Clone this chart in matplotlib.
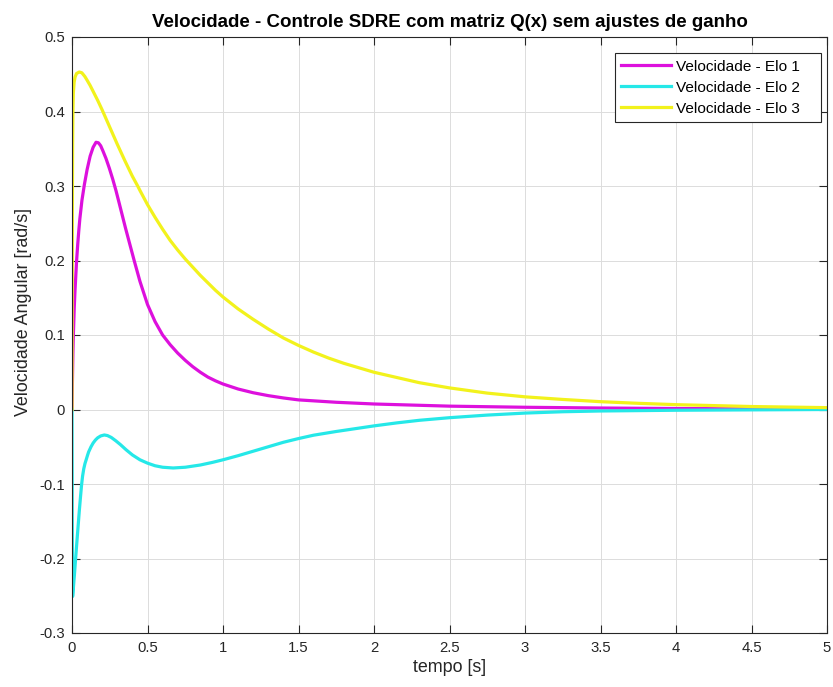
import matplotlib
matplotlib.use("Agg")
import matplotlib.pyplot as plt

# --- data ---
t_elo1 = [0, 0.003, 0.006, 0.009, 0.015, 0.02, 0.03, 0.038, 0.045, 0.052, 0.066, 0.082, 0.1,
          0.12, 0.14, 0.159, 0.175, 0.19, 0.205, 0.225, 0.247, 0.27, 0.291, 0.31, 0.33, 0.355,
          0.38, 0.413, 0.45, 0.5, 0.55, 0.6, 0.65, 0.7, 0.75, 0.8, 0.85, 0.9, 0.95, 1.0, 1.1,
          1.2, 1.3, 1.4, 1.5, 1.75, 2.0, 2.5, 3.0, 3.5, 4.0, 4.5, 5.0]
v_elo1 = [0, 0.04, 0.075, 0.1, 0.137, 0.16, 0.198, 0.222, 0.24, 0.256, 0.281, 0.302, 0.322,
          0.34, 0.352, 0.3587, 0.358, 0.354, 0.347, 0.337, 0.324, 0.309, 0.294, 0.279, 0.263,
          0.243, 0.224, 0.199, 0.172, 0.141, 0.118, 0.1, 0.087, 0.0757, 0.066, 0.0574, 0.05,
          0.0435, 0.0385, 0.0342, 0.0275, 0.0225, 0.0186, 0.0155, 0.0129, 0.0097, 0.0074,
          0.0045, 0.003, 0.002, 0.0013, 0.0009, 0.0006]

t_elo2 = [0, 0.001, 0.002, 0.003, 0.004, 0.007, 0.01, 0.016, 0.024, 0.03, 0.038, 0.048, 0.056,
          0.063, 0.07, 0.078, 0.086, 0.093, 0.102, 0.11, 0.126, 0.14, 0.155, 0.17, 0.19, 0.214,
          0.235, 0.26, 0.29, 0.32, 0.358, 0.4, 0.45, 0.5, 0.55, 0.6, 0.67, 0.75, 0.85, 0.93, 1.0,
          1.1, 1.2, 1.3, 1.4, 1.5, 1.6, 1.75, 2.0, 2.15, 2.3, 2.5, 2.75, 3.0, 3.25, 3.5, 4.0,
          4.5, 5.0]
v_elo2 = [0, -0.08, -0.16, -0.22, -0.251, -0.245, -0.237, -0.222, -0.2, -0.184, -0.163, -0.137,
          -0.118, -0.102, -0.0895, -0.0795, -0.0725, -0.068, -0.062, -0.057, -0.05, -0.045,
          -0.041, -0.038, -0.0355, -0.0342, -0.035, -0.0375, -0.042, -0.047, -0.054, -0.061,
          -0.0675, -0.072, -0.0755, -0.0775, -0.0785, -0.0775, -0.0745, -0.071, -0.0675, -0.062,
          -0.056, -0.05, -0.044, -0.039, -0.0345, -0.0295, -0.022, -0.018, -0.0145, -0.011,
          -0.0075, -0.0048, -0.003, -0.002, -0.001, -0.0005, 0]

t_elo3 = [0, 0.001, 0.002, 0.003, 0.004, 0.006, 0.009, 0.014, 0.02, 0.03, 0.048, 0.065, 0.085,
          0.1, 0.12, 0.14, 0.17, 0.2, 0.25, 0.3, 0.35, 0.4, 0.435, 0.45, 0.5, 0.55, 0.6, 0.65,
          0.7, 0.75, 0.8, 0.85, 0.9, 0.95, 1.0, 1.1, 1.2, 1.3, 1.4, 1.5, 1.6, 1.7, 1.8, 1.9, 2.0,
          2.15, 2.3, 2.5, 2.75, 3.0, 3.25, 3.5, 3.75, 4.0, 4.5, 5.0]
v_elo3 = [0, 0.12, 0.22, 0.3, 0.355, 0.4, 0.425, 0.439, 0.446, 0.451, 0.453, 0.452, 0.447,
          0.442, 0.435, 0.427, 0.415, 0.402, 0.379, 0.356, 0.334, 0.313, 0.3, 0.294, 0.275,
          0.258, 0.242, 0.227, 0.214, 0.202, 0.191, 0.18, 0.17, 0.16, 0.151, 0.135, 0.121,
          0.108, 0.096, 0.086, 0.077, 0.069, 0.062, 0.056, 0.05, 0.043, 0.036, 0.029, 0.022,
          0.017, 0.0135, 0.0105, 0.0083, 0.0065, 0.004, 0.0025]

labels = ["Velocidade - Elo 1", "Velocidade - Elo 2", "Velocidade - Elo 3"]
colors = ["#DD10DD", "#25E8E8", "#F2F21C"]

xticks = [0, 0.5, 1, 1.5, 2, 2.5, 3, 3.5, 4, 4.5, 5]
xticklabels = ["0", "0.5", "1", "1.5", "2", "2.5", "3", "3.5", "4", "4.5", "5"]
yticks = [-0.3, -0.2, -0.1, 0, 0.1, 0.2, 0.3, 0.4, 0.5]
yticklabels = ["-0.3", "-0.2", "-0.1", "0", "0.1", "0.2", "0.3", "0.4", "0.5"]

plt.rcParams["font.family"] = ["Liberation Sans", "DejaVu Sans"]
axis_color = "#262626"

fig = plt.figure(figsize=(8.33, 6.87), dpi=100)
ax = fig.add_axes([72 / 833, 1 - 633 / 687, 755 / 833, 596 / 687])

for t, v, lab, c in zip([t_elo1, t_elo2, t_elo3], [v_elo1, v_elo2, v_elo3], labels, colors):
    ax.plot(t, v, color=c, linewidth=2.3, label=lab, solid_joinstyle="round")

ax.set_xlim(0, 5)
ax.set_ylim(-0.3, 0.5)
ax.set_xticks(xticks)
ax.set_xticklabels(xticklabels)
ax.set_yticks(yticks)
ax.set_yticklabels(yticklabels)
ax.tick_params(direction="in", length=5.5, width=0.8, colors=axis_color, labelsize=10.7,
               top=True, right=True)
ax.tick_params(axis="x", pad=6)
ax.tick_params(axis="y", pad=5)
for s in ax.spines.values():
    s.set_color(axis_color)
    s.set_linewidth(0.8)
ax.grid(True, color="#DCDCDC", linewidth=0.7)
ax.set_axisbelow(True)

ax.set_title("Velocidade - Controle SDRE com matriz Q(x) sem ajustes de ganho",
             fontsize=13.5, fontweight="bold", color="black", pad=7)
ax.set_xlabel("tempo [s]", fontsize=12.9, color=axis_color, labelpad=3)
ax.set_ylabel("Velocidade Angular [rad/s]", fontsize=12.9, color=axis_color, labelpad=5)
ax.yaxis.label.set_y(0.538)

# legend box spans x 615..821 px, top at 53 px in the reference
leg = ax.legend(loc="upper right", bbox_to_anchor=(0.7192, 0.5, 0.2725, 0.4727),
                mode="expand", borderaxespad=0, fancybox=False, framealpha=1,
                edgecolor=axis_color, fontsize=11.1, handlelength=3.2, handletextpad=0.35,
                labelspacing=0.45, borderpad=0.42)
leg.get_frame().set_linewidth(0.8)

fig.savefig("out.png", dpi=100)
